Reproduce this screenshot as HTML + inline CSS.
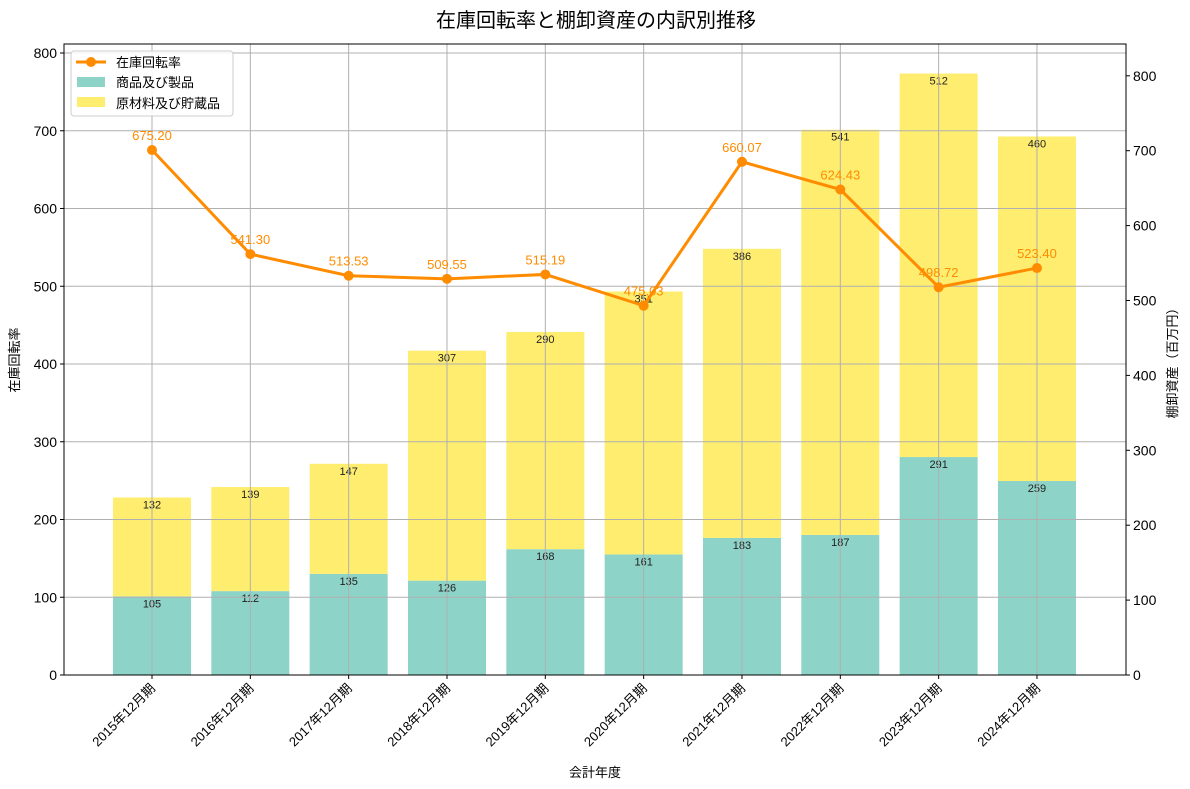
<!DOCTYPE html>
<html><head><meta charset="utf-8">
<style>
body{margin:0;background:#fff;}
svg{display:block;font-family:"Liberation Sans","Noto Sans CJK JP",sans-serif;}
</style></head>
<body>
<svg id="chart" width="1190" height="789" viewBox="0 0 1190 789" xmlns="http://www.w3.org/2000/svg">
<text x="596" y="27" font-size="20" text-anchor="middle" fill="#000">在庫回転率と棚卸資産の内訳別推移</text>
<g id="grid"></g><g id="bars"></g><g id="grid2"></g><g id="line"></g><g id="axes"></g>
</svg>
<script>
const categories=["2015年12月期","2016年12月期","2017年12月期","2018年12月期","2019年12月期","2020年12月期","2021年12月期","2022年12月期","2023年12月期","2024年12月期"];
const goods=[105,112,135,126,168,161,183,187,291,259];
const materials=[132,139,147,307,290,351,386,541,512,460];
const turnover=[675.20,541.30,513.53,509.55,515.19,475.03,660.07,624.43,498.72,523.40];
const leftTicks=[0,100,200,300,400,500,600,700,800];
const rightTicks=[0,100,200,300,400,500,600,700,800];

const NS="http://www.w3.org/2000/svg";
const L=64,R=1126,T=44,B=675;
const x=i=>152+i*98.33;
const yL=v=>B-v*0.7775;
const yR=v=>B-v*0.749;
function mk(tag,attrs,parent,text){const e=document.createElementNS(NS,tag);for(const k in attrs)e.setAttribute(k,attrs[k]);if(text!==undefined)e.textContent=text;document.getElementById(parent).appendChild(e);return e;}

const bw=78;
categories.forEach((c,i)=>{
  let e=mk('rect',{x:x(i)-bw/2,y:yR(goods[i]),width:bw,height:B-yR(goods[i]),fill:'#8dd3c7'},'bars');
  
  
  const top=goods[i]+materials[i];
  e=mk('rect',{x:x(i)-bw/2,y:yR(top),width:bw,height:yR(goods[i])-yR(top),fill:'#ffed6f'},'bars');
  
  
  e=mk('text',{x:x(i),y:yR(goods[i])+11,'font-size':11,'text-anchor':'middle',fill:'#222'},'bars',goods[i]);
  
  
  e=mk('text',{x:x(i),y:yR(top)+11,'font-size':11,'text-anchor':'middle',fill:'#222'},'bars',materials[i]);
  
  
});
// grid
leftTicks.forEach(t=>{const e=mk('line',{x1:L,x2:R,y1:yL(t),y2:yL(t),stroke:'#b0b0b0','stroke-width':1},'grid2');
  
  });
categories.forEach((c,i)=>{const e=mk('line',{x1:x(i),x2:x(i),y1:T,y2:B,stroke:'#b0b0b0','stroke-width':1},'grid2');
  
  });
// line
const pl=mk('polyline',{points:turnover.map((v,i)=>x(i)+','+yL(v)).join(' '),fill:'none',stroke:'#ff8c00','stroke-width':3},'line');


turnover.forEach((v,i)=>{
  let e=mk('circle',{cx:x(i),cy:yL(v),r:5,fill:'#ff8c00'},'line');
  
  
  e=mk('text',{x:x(i),y:yL(v)-10,'font-size':13,'text-anchor':'middle',fill:'#ff8c00'},'line',v.toFixed(2));
  
  
});
// axes frame
let f=mk('rect',{x:L,y:T,width:R-L,height:B-T,fill:'none',stroke:'#000','stroke-width':1},'axes');


leftTicks.forEach(t=>{
  mk('line',{x1:L-4,x2:L,y1:yL(t),y2:yL(t),stroke:'#000'},'axes');
  const e=mk('text',{x:L-7,y:yL(t)+5,'font-size':14,'text-anchor':'end'},'axes',t);
  
  
});
rightTicks.forEach(t=>{
  mk('line',{x1:R,x2:R+4,y1:yR(t),y2:yR(t),stroke:'#000'},'axes');
  const e=mk('text',{x:R+7,y:yR(t)+5,'font-size':14,'text-anchor':'start'},'axes',t);
  
  
});
categories.forEach((c,i)=>{
  mk('line',{x1:x(i),x2:x(i),y1:B,y2:B+4,stroke:'#000'},'axes');
  const e=mk('text',{x:x(i)+4,y:B+14,'font-size':13,'text-anchor':'end',transform:`rotate(-45 ${x(i)+4} ${B+14})`},'axes',c);
  
  
});
let e=mk('text',{x:595,y:777,'font-size':13,'text-anchor':'middle'},'axes','会計年度');


e=mk('text',{x:19,y:360,'font-size':13,'text-anchor':'middle',transform:'rotate(-90 19 360)'},'axes','在庫回転率');


e=mk('text',{x:1177,y:360,'font-size':13,'text-anchor':'middle',transform:'rotate(-90 1177 360)'},'axes','棚卸資産（百万円）');


// legend
const lg=mk('g',{},'axes');


mk('rect',{x:71,y:51,width:162,height:65,rx:3,fill:'#fff','fill-opacity':0.85,stroke:'#ccc'},'axes');
mk('line',{x1:76,x2:106,y1:62,y2:62,stroke:'#ff8c00','stroke-width':3},'axes');
mk('circle',{cx:91,cy:62,r:5,fill:'#ff8c00'},'axes');
e=mk('text',{x:116,y:67,'font-size':13},'axes','在庫回転率');


mk('rect',{x:77,y:77,width:28,height:10,fill:'#8dd3c7'},'axes');
e=mk('text',{x:116,y:87,'font-size':13},'axes','商品及び製品');


mk('rect',{x:77,y:97,width:28,height:10,fill:'#ffed6f'},'axes');
e=mk('text',{x:116,y:108,'font-size':13},'axes','原材料及び貯蔵品');


</script>
</body></html>
